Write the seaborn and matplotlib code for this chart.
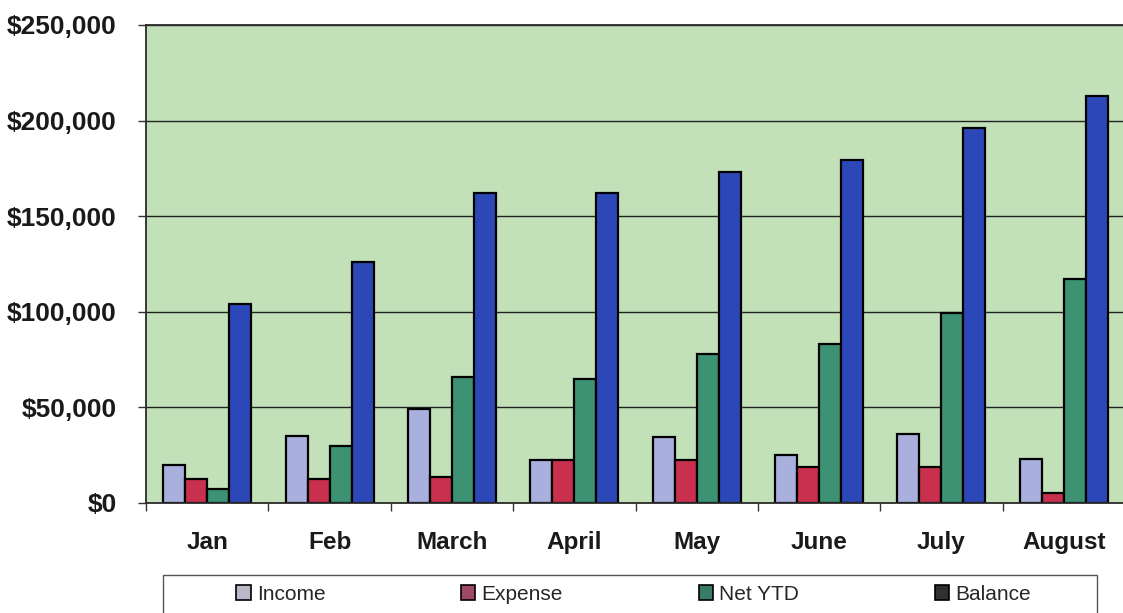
import matplotlib
matplotlib.use("Agg")
import matplotlib.pyplot as plt
from matplotlib.patches import Patch, Rectangle
from matplotlib.ticker import FuncFormatter, FixedLocator
import seaborn as sns
import pandas as pd

months = ["Jan", "Feb", "March", "April", "May", "June", "July", "August"]
series = ["Income", "Expense", "Net YTD", "Balance"]
income = [20000, 35000, 49000, 22500, 34500, 25000, 36000, 23000]
expense = [12500, 12500, 13500, 22500, 22500, 19000, 19000, 5000]
net_ytd = [7500, 30000, 66000, 65000, 78000, 83000, 99500, 117000]
balance = [104000, 126000, 162000, 162000, 173000, 179500, 196000, 213000]

colors = ["#aab0de", "#c8304e", "#3c9272", "#2c48b8"]
legend_colors = ["#b8b8c8", "#a04868", "#3a7a68", "#303030"]

df = pd.DataFrame({
    "Month": months * 4,
    "Series": [s for s in series for _ in months],
    "Value": income + expense + net_ytd + balance,
})

sns.set_style("white")
plt.rcParams["font.family"] = ["Liberation Sans", "DejaVu Sans"]

W, H = 1123, 613
fig = plt.figure(figsize=(W / 100, H / 100), dpi=100)
fig.patch.set_facecolor("white")
left, right, top, bottom = 146, 1125, 25, 503
ax = fig.add_axes([left / W, 1 - bottom / H, (right - left) / W, (bottom - top) / H])
ax.set_facecolor("#c3e1b9")

sns.barplot(data=df, x="Month", y="Value", hue="Series", order=months,
            hue_order=series, palette=colors, width=0.72, ax=ax,
            edgecolor="black", linewidth=1.6, saturation=1, legend=False,
            errorbar=None)

ax.set_ylim(0, 250000)
ax.set_xlim(-0.5, 7.5)
ax.set_yticks([0, 50000, 100000, 150000, 200000, 250000])
ax.yaxis.set_major_formatter(FuncFormatter(lambda v, p: f"${int(v):,}"))
ax.grid(axis="y", color="#222222", linewidth=1.0)
ax.set_axisbelow(True)
ax.set_xlabel("")
ax.set_ylabel("")

ax.xaxis.set_minor_locator(FixedLocator([i + 0.5 for i in range(-1, 8)]))
ax.tick_params(axis="x", which="major", length=0, pad=20, labelsize=17.5)
ax.tick_params(axis="x", which="minor", length=6, width=1, color="#333333", direction="out", bottom=True)
ax.tick_params(axis="y", which="major", length=6, width=1, color="#333333", direction="out", pad=15, labelsize=19, left=True)
for lab in ax.get_xticklabels() + ax.get_yticklabels():
    lab.set_fontweight("bold")
    lab.set_color("#1a1a1a")

for side in ["left", "bottom", "top"]:
    ax.spines[side].set_color("#2a2a2a")
    ax.spines[side].set_linewidth(1.3)
ax.spines["right"].set_visible(False)

# legend frame
fig.add_artist(Rectangle((163 / W, -0.01), (1097 - 163) / W, (H - 575) / H + 0.01,
                         transform=fig.transFigure, facecolor="white",
                         edgecolor="#555555", linewidth=1.0, clip_on=False))
handles = [Patch(facecolor=c, edgecolor="black", linewidth=1.2) for c in legend_colors]
fig.legend(handles, series, loc="center left", bbox_to_anchor=(236 / W, 1 - 594 / H),
           ncol=4, frameon=False, fontsize=15, handlelength=0.7, handleheight=0.7,
           handletextpad=0.3, columnspacing=6.5, borderpad=0, borderaxespad=0)

fig.savefig("out.png", dpi=100, facecolor="white")
